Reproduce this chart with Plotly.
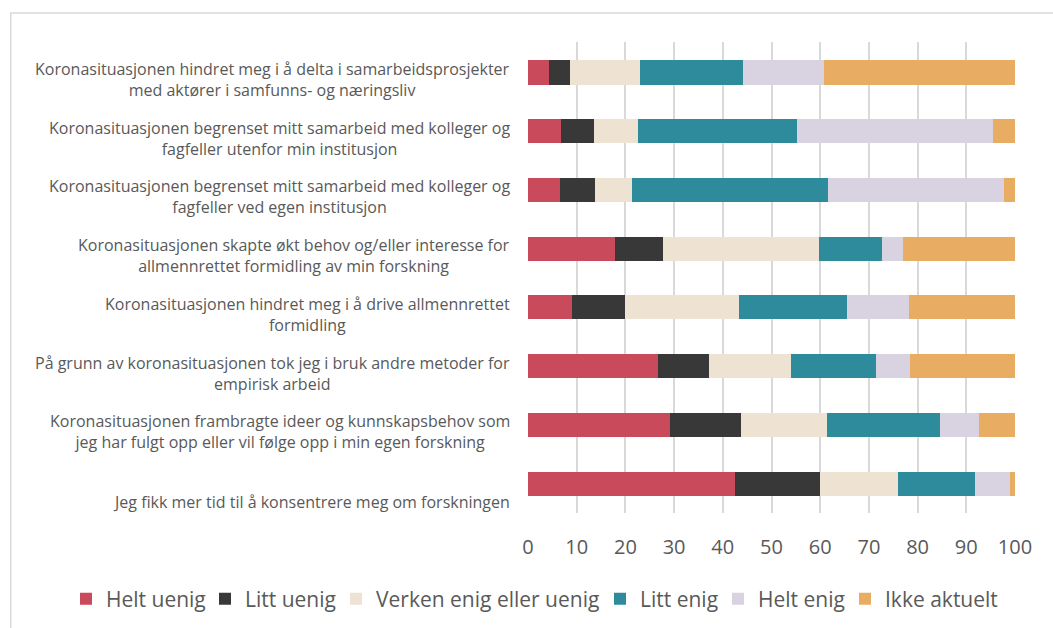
import plotly.graph_objects as go

categories = [
    "Koronasituasjonen hindret meg i å delta i samarbeidsprosjekter<br>med aktører i samfunns- og næringsliv",
    "Koronasituasjonen begrenset mitt samarbeid med kolleger og<br>fagfeller utenfor min institusjon",
    "Koronasituasjonen begrenset mitt samarbeid med kolleger og<br>fagfeller ved egen institusjon",
    "Koronasituasjonen skapte økt behov og/eller interesse for<br>allmennrettet formidling av min forskning",
    "Koronasituasjonen hindret meg i å drive allmennrettet<br>formidling",
    "På grunn av koronasituasjonen tok jeg i bruk andre metoder for<br>empirisk arbeid",
    "Koronasituasjonen frambragte ideer og kunnskapsbehov som<br>jeg har fulgt opp eller vil følge opp i min egen forskning",
    "Jeg fikk mer tid til å konsentrere meg om forskningen",
]

series_names = ["Helt uenig", "Litt uenig", "Verken enig eller uenig", "Litt enig", "Helt enig", "Ikke aktuelt"]

helt_uenig = [4.4, 6.8, 6.5, 17.8, 9.1, 26.6, 29.1, 42.5]
litt_uenig = [4.2, 6.8, 7.2, 10.0, 10.8, 10.5, 14.7, 17.4]
verken = [14.4, 9.0, 7.7, 32.0, 23.5, 16.9, 17.5, 16.0]
litt_enig = [21.1, 32.7, 40.3, 12.8, 22.1, 17.5, 23.3, 15.8]
helt_enig = [16.6, 40.2, 36.0, 4.3, 12.8, 7.0, 8.1, 7.3]
ikke_aktuelt = [39.4, 4.4, 2.3, 23.1, 21.8, 21.5, 7.3, 1.0]

x_ticks = [0, 10, 20, 30, 40, 50, 60, 70, 80, 90, 100]

colors = ["#C94A5A", "#383838", "#EEE2D3", "#2E8B9C", "#D9D2E0", "#E8AD63"]
all_values = [helt_uenig, litt_uenig, verken, litt_enig, helt_enig, ikke_aktuelt]

FONT = "Open Sans"
TXT = "#595959"
W, H = 1053, 628

# pixel x where each legend entry's text starts (layout, not data)
legend_text_px = [104, 243, 374, 638, 756, 883]

fig = go.Figure()
legend_layouts = {}
for i, (name, vals, col) in enumerate(zip(series_names, all_values, colors)):
    lg = "legend" if i == 0 else f"legend{i + 1}"
    fig.add_trace(go.Bar(
        x=vals, y=categories, name=name, orientation="h",
        marker=dict(color=col, line=dict(width=0)),
        legend=lg,
    ))
    legend_layouts[lg] = dict(
        orientation="h", xref="container", yref="paper",
        x=(legend_text_px[i] - 38) / W, xanchor="left",
        y=-0.183, yanchor="middle",
        font=dict(family=FONT, size=21, color=TXT),
        itemclick=False, itemdoubleclick=False, bgcolor="rgba(0,0,0,0)",
    )

# Category labels (centered multi-line, right-aligned block)
for cat in categories:
    shift = -7 if "<br>" in cat else -18
    fig.add_annotation(
        x=-0.032, xref="paper", y=cat, yref="y",
        text=cat, showarrow=False, xanchor="right", yanchor="middle",
        align="center", yshift=shift,
        font=dict(family=FONT, size=16, color=TXT),
    )

# Chart frame (left & top edges visible)
fig.add_shape(type="rect", xref="paper", yref="paper",
              x0=-1.0622, x1=1.2, y0=-0.4, y1=1.0616,
              line=dict(color="#D9D9D9", width=1.5), layer="below")

fig.update_layout(
    width=W, height=H,
    barmode="stack", bargap=0.59,
    plot_bgcolor="white", paper_bgcolor="white",
    margin=dict(l=528, r=38, t=42, b=115, autoexpand=False),
    font=dict(family=FONT, color=TXT),
    showlegend=True,
    xaxis=dict(range=[0, 100], tickvals=x_ticks, showgrid=True, gridcolor="#D9D9D9",
               gridwidth=1.5, zeroline=False, showline=False,
               tickfont=dict(family=FONT, size=20, color=TXT), ticklabelstandoff=20),
    yaxis=dict(categoryorder="array", categoryarray=categories, autorange="reversed",
               showticklabels=False, showgrid=False, zeroline=False, showline=False),
    **legend_layouts,
)

fig.write_html("out.html", config={"displayModeBar": False},
               post_script="document.body.style.margin='0';document.body.style.overflow='hidden';")
